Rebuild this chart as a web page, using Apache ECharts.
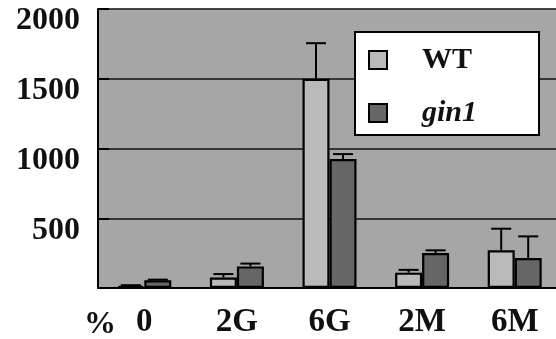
<!DOCTYPE html>
<html>
<head>
<meta charset="utf-8">
<script src="https://cdn.jsdelivr.net/npm/echarts@6/dist/echarts.min.js"></script>
<style>html,body{margin:0;padding:0;background:#fff;}#c{width:556px;height:339px;}</style>
</head>
<body>
<div id="c"></div>
<script>
const categories = ['0', '2G', '6G', '2M', '6M'];
const wt = [15, 75, 1500, 110, 270];
const wtErr = [5, 25, 255, 20, 155];
const gin1 = [55, 155, 925, 250, 215];
const gin1Err = [5, 20, 35, 20, 155];
const yTicks = [0, 500, 1000, 1500, 2000];

const FONT = '"Liberation Serif", "Times New Roman", serif';
const BW = 27;

function errItem(sign) {
  return function (params, api) {
    const i = api.value(0), v = api.value(1), e = api.value(2);
    const top = api.coord([i, v + e]);
    const base = api.coord([i, v]);
    const x = top[0] + sign * BW / 2;
    return {
      type: 'group',
      children: [
        { type: 'line', shape: { x1: x, y1: base[1], x2: x, y2: top[1] }, style: { stroke: '#000', lineWidth: 2 } },
        { type: 'line', shape: { x1: x - 10, y1: top[1], x2: x + 10, y2: top[1] }, style: { stroke: '#000', lineWidth: 2 } }
      ]
    };
  };
}

const chart = echarts.init(document.getElementById('c'));
chart.setOption({
  animation: false,
  backgroundColor: '#fff',
  grid: { left: 98, top: 9, right: -5, bottom: 51, containLabel: false, outerBoundsMode: 'none', show: true, backgroundColor: '#a6a6a6', borderColor: '#c4c4c4', borderWidth: 1 },
  legend: {
    data: ['WT', 'gin1'],
    orient: 'vertical',
    left: 355, top: 32,
    backgroundColor: '#fff', borderColor: '#000', borderWidth: 2,
    padding: [13, 62, 7, 13],
    itemWidth: 18, itemHeight: 18, itemGap: 23,
    icon: 'rect',
    formatter: function (n) { return n === 'WT' ? '{a|WT}' : '{b|gin1}'; },
    textStyle: {
      lineHeight: 30,
      padding: [0, 0, 0, 30],
      rich: {
        a: { fontFamily: FONT, fontWeight: 'bold', fontSize: 30, color: '#111', lineHeight: 30 },
        b: { fontFamily: FONT, fontWeight: 'bold', fontStyle: 'italic', fontSize: 30, color: '#111', lineHeight: 30 }
      }
    }
  },
  xAxis: {
    type: 'category',
    data: categories,
    name: '%',
    nameLocation: 'start',
    nameGap: -2,
    nameTextStyle: { fontFamily: FONT, fontWeight: 'bold', fontSize: 32, color: '#111', align: 'center', verticalAlign: 'top', padding: [21, 0, 0, 0] },
    axisLine: { lineStyle: { color: '#000', width: 2 } },
    axisTick: { inside: true, length: 11, lineStyle: { color: '#000', width: 2 } },
    axisLabel: { fontFamily: FONT, fontWeight: 'bold', fontSize: 33, color: '#111', margin: 18 }
  },
  yAxis: {
    type: 'value',
    min: yTicks[0], max: yTicks[yTicks.length - 1], interval: 500,
    axisLine: { show: true, lineStyle: { color: '#000', width: 2 } },
    axisTick: { show: true, inside: true, length: 11, lineStyle: { color: '#000', width: 2 } },
    splitLine: { lineStyle: { color: '#111', width: 1.6 } },
    axisLabel: {
      fontFamily: FONT, fontWeight: 'bold', fontSize: 32, color: '#111', margin: 18,
      verticalAlign: 'top', lineHeight: 24,
      formatter: function (v) { return v === 0 ? '' : String(v); }
    }
  },
  series: [
    { name: 'WT', type: 'bar', data: wt, barWidth: BW, barGap: '0%', itemStyle: { color: '#bababa', borderColor: '#000', borderWidth: 2.2 }, z: 2 },
    { name: 'gin1', type: 'bar', data: gin1, barWidth: BW, barGap: '0%', itemStyle: { color: '#666666', borderColor: '#000', borderWidth: 2.2 }, z: 2 },
    { name: 'WT err', type: 'custom', renderItem: errItem(-1), data: categories.map((c, i) => [i, wt[i], wtErr[i]]), encode: { x: 0, y: 1 }, z: 3 },
    { name: 'gin1 err', type: 'custom', renderItem: errItem(1), data: categories.map((c, i) => [i, gin1[i], gin1Err[i]]), encode: { x: 0, y: 1 }, z: 3 }
  ]
});
</script>
</body>
</html>
